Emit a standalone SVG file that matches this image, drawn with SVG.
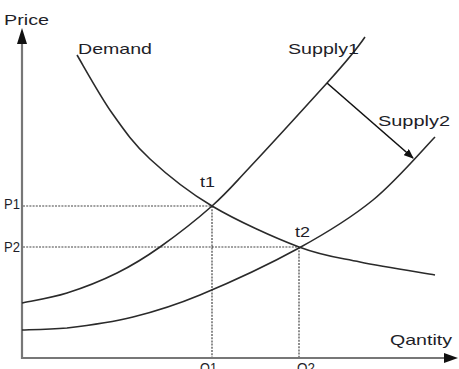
<svg xmlns="http://www.w3.org/2000/svg" width="459" height="369" viewBox="0 0 459 369">
<style>
  .t { font-family: "Liberation Sans", Arial, sans-serif; font-size: 15px; fill: #1e1e28; }
  .curve { fill: none; stroke: #2a2a2a; stroke-width: 1.6; }
  .axis { stroke: #777; stroke-width: 2.2; fill: none; }
  .guide { stroke: #444; stroke-width: 1.2; stroke-dasharray: 2 1.2; fill: none; }
</style>
<defs>
  <marker id="ah" markerWidth="10" markerHeight="8" refX="9" refY="4" orient="auto" markerUnits="userSpaceOnUse">
    <path d="M0,0 L10,4 L0,8 Z" fill="#111"/>
  </marker>
</defs>
<rect width="459" height="369" fill="#fff"/>

<g id="guides">
  <path class="guide" d="M23,206 H212 M23,247 H299 M212,206 V357 M299,247 V357"/>
</g>

<g id="axes">
  <path class="axis" d="M22,359 V42"/>
  <path d="M22,28 L27,44 L17,44 Z" fill="#111"/>
  <path class="axis" d="M21,358 H446"/>
  <path d="M458,358 L444,353 L444,363 Z" fill="#111"/>
  <text class="t" x="4" y="25" textLength="45" lengthAdjust="spacingAndGlyphs">Price</text>
  <text class="t" x="390" y="345" textLength="62" lengthAdjust="spacingAndGlyphs">Qantity</text>
</g>

<g id="demand">
  <path class="curve" d="M77,55 C82.8,64.7 99.8,95.7 112,113 C124.2,130.3 133.3,143.5 150,159 C166.7,174.5 187.2,191.3 212,206 C236.8,220.7 274.3,237.7 299,247 C323.7,256.3 337.3,257.3 360,262 C382.7,266.7 422.5,272.8 435,275"/>
  <text class="t" x="78" y="54" textLength="74" lengthAdjust="spacingAndGlyphs">Demand</text>
</g>

<g id="supply1">
  <path class="curve" d="M22,303 C29.5,301.3 51.2,298 67,293 C82.8,288 101.5,280.7 117,273 C132.5,265.3 144.2,258.2 160,247 C175.8,235.8 197,219.3 212,206 C227,192.7 230.8,187.5 250,167 C269.2,146.5 307.8,104.2 327,83 C346.2,61.8 358.7,46.2 365,37"/>
  <text class="t" x="288" y="54" textLength="71" lengthAdjust="spacingAndGlyphs">Supply1</text>
</g>

<g id="supply2">
  <path class="curve" d="M22,330 C29.5,329.7 48.5,329.5 67,328 C85.5,325.8 110.8,322.5 133,317 C155.2,311.5 172.3,306.5 200,295 C227.7,283.5 270.2,263.8 299,248 C327.8,232.2 350.3,218.5 373,200 C395.7,181.5 424.7,147.5 435,137"/>
  <text class="t" x="378" y="126" textLength="72" lengthAdjust="spacingAndGlyphs">Supply2</text>
</g>

<g id="t1">
  <text class="t" x="200" y="187" textLength="15" lengthAdjust="spacingAndGlyphs">t1</text>
</g>
<g id="t2">
  <text class="t" x="295" y="237" textLength="15" lengthAdjust="spacingAndGlyphs">t2</text>
</g>
<g id="p1"><text class="t" x="4" y="209" textLength="16" lengthAdjust="spacingAndGlyphs">P1</text></g>
<g id="p2"><text class="t" x="4" y="252" textLength="16" lengthAdjust="spacingAndGlyphs">P2</text></g>
<g id="q1"><text class="t" x="200" y="373" textLength="17" lengthAdjust="spacingAndGlyphs">Q1</text></g>
<g id="q2"><text class="t" x="297" y="373" textLength="18" lengthAdjust="spacingAndGlyphs">Q2</text></g>

<g id="connectors">
  <line x1="327" y1="83" x2="413" y2="158" stroke="#111" stroke-width="1.6" marker-end="url(#ah)"/>
</g>
</svg>
